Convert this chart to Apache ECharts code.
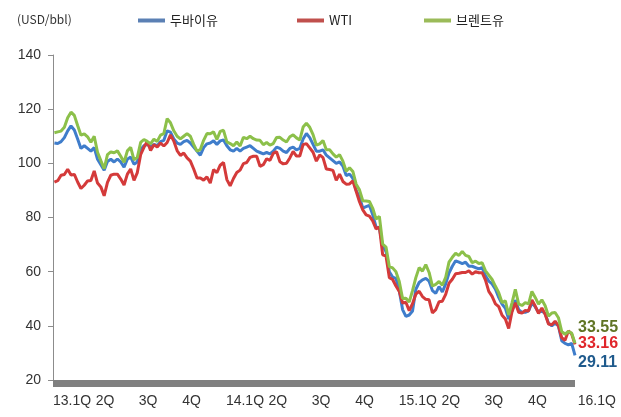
<!DOCTYPE html>
<html><head><meta charset="utf-8">
<script src="https://cdn.jsdelivr.net/npm/echarts@6/dist/echarts.min.js"></script>
<style>html,body{margin:0;padding:0;background:#fff}#c{width:621px;height:417px}</style>
</head><body><div id="c"></div>
<script>
// Weekly observations (Fridays) starting 2013-01-04 through 2016-01-08
const firstWeek = [2013, 0, 4];
const seriesNames = ['두바이유', 'WTI', '브렌트유'];

const dubai = [
  107.5,107.3,108.0,109.5,112.0,113.8,112.3,109.0,105.5,106.5,
  105.5,104.5,105.8,101.5,99.5,97.5,100.7,101.5,100.5,101.6,
  100.5,98.6,101.5,102.3,99.7,100.5,105.0,106.5,107.0,106.0,
  107.0,106.5,108.0,108.5,112.0,111.5,109.0,107.5,107.0,108.0,
  108.5,107.5,106.0,104.5,103.0,105.8,107.2,107.5,108.3,107.0,
  108.3,108.6,
  106.5,105.0,104.5,105.5,104.5,105.5,106.0,106.5,105.5,104.5,
  104.0,103.5,104.0,103.5,104.5,106.0,105.5,104.5,104.0,105.5,
  106.0,105.0,105.5,109.0,111.0,109.5,107.0,104.5,104.5,105.0,
  103.0,102.0,101.0,100.0,100.5,99.0,95.5,96.0,94.5,90.0,
  87.5,83.5,84.0,84.5,81.0,76.5,76.0,69.5,67.5,60.0,
  58.0,57.5,
  53.0,46.0,43.5,44.0,45.5,53.5,56.0,57.0,57.5,56.5,
  53.0,52.0,54.5,52.5,55.5,59.5,62.0,64.0,63.5,63.0,
  63.5,62.0,62.0,61.5,61.0,61.5,58.5,56.5,55.5,53.5,
  50.5,48.0,46.5,42.5,45.5,49.5,46.0,45.0,45.0,45.5,
  48.5,47.0,45.0,45.5,44.5,41.0,40.0,41.0,40.0,34.5,
  33.5,33.0,
  33.5,29.11
];

const wti = [
  93.1,93.6,95.6,95.9,97.8,95.7,95.9,93.1,90.7,91.9,
  93.5,93.7,97.2,92.7,91.3,88.0,93.0,95.6,96.0,96.0,
  94.2,92.0,96.0,97.9,93.7,96.6,103.2,105.9,108.1,104.7,
  106.9,106.0,107.5,106.4,107.7,110.5,108.2,104.7,102.9,103.8,
  102.0,100.8,97.9,94.6,94.6,93.8,95.0,92.7,97.7,96.6,
  99.3,100.3,
  94.0,91.7,94.4,96.6,97.5,99.9,100.3,102.2,102.6,102.6,
  98.9,99.5,101.7,101.1,103.7,104.3,100.6,99.8,100.0,102.0,
  104.4,102.7,102.7,106.9,107.3,105.7,104.1,100.8,103.1,102.1,
  97.9,97.7,97.4,93.7,96.0,93.3,92.3,92.4,93.5,89.7,
  85.8,82.8,81.0,80.5,78.7,75.8,76.5,66.2,65.8,57.8,
  57.1,54.7,
  52.7,48.4,48.7,45.6,48.2,51.7,52.8,50.8,49.8,49.6,
  44.8,46.0,48.9,49.1,51.6,55.7,57.2,59.2,59.4,59.7,
  59.7,60.3,59.1,60.0,59.6,59.6,56.9,52.7,50.9,48.1,
  47.1,43.9,42.5,39.0,45.2,48.5,45.0,44.7,45.7,45.5,
  49.6,47.3,44.6,46.6,44.3,40.7,40.4,41.7,40.0,35.6,
  34.7,38.1,
  37.0,33.16
];

const brent = [
  111.3,111.6,111.9,113.3,116.8,118.9,117.7,114.0,110.4,110.9,
  109.8,107.8,110.0,104.1,101.0,98.0,103.2,104.2,103.9,104.6,
  102.6,100.4,104.6,105.9,101.3,102.2,107.7,108.8,108.1,107.2,
  108.9,108.1,110.4,111.0,116.5,115.0,112.0,110.0,109.0,110.0,
  111.0,110.0,107.0,104.5,105.1,108.5,111.0,110.9,111.6,108.8,
  111.8,112.2,
  107.9,107.3,106.5,107.9,106.4,109.6,109.1,110.0,109.1,108.6,
  108.5,106.9,107.7,106.7,107.3,109.5,109.6,108.6,107.9,109.8,
  110.5,109.4,108.6,113.4,114.8,113.3,110.6,106.7,107.2,108.4,
  105.0,105.0,103.5,102.3,103.2,100.8,97.1,98.4,97.0,92.3,
  90.2,86.2,86.1,85.9,83.4,79.4,80.4,70.2,69.1,61.9,
  61.4,60.0,
  56.4,50.1,50.2,48.8,53.0,57.8,61.5,60.2,62.6,59.7,
  54.7,55.3,56.4,55.0,57.9,63.5,65.3,66.8,66.0,67.5,
  66.0,65.6,63.3,63.9,63.0,63.3,60.3,58.7,57.1,54.6,
  52.2,48.6,49.2,44.0,48.5,53.5,48.1,47.5,48.6,48.1,
  52.7,50.5,48.0,49.6,47.4,43.6,44.7,44.9,43.0,37.9,
  36.9,37.9,
  37.3,33.55
];

const quarterStarts = [[2013,0],[2013,3],[2013,6],[2013,9],[2014,0],[2014,3],[2014,6],[2014,9],[2015,0],[2015,3],[2015,6],[2015,9],[2016,0]];
const quarterLabels = ['13.1Q','2Q','3Q','4Q','14.1Q','2Q','3Q','4Q','15.1Q','2Q','3Q','4Q','16.1Q'];
const yMin = 20, yMax = 140, yStep = 20;

const DAY = 86400000;
// x values: days since 2013-01-01
const base = Date.UTC(2013, 0, 1);
const dayOf = (y, m, d) => Math.round((Date.UTC(y, m, d) - base) / DAY);
const weekDays = dubai.map((_, i) => dayOf(firstWeek[0], firstWeek[1], firstWeek[2] + 7 * i));
const qDays = quarterStarts.map(q => dayOf(q[0], q[1], 1));
const toPairs = arr => arr.map((v, i) => [weekDays[i], v]);

const NARROW = '"Liberation Sans Narrow","Arial Narrow",sans-serif';
const KR = '"Noto Sans CJK KR","Noto Sans",sans-serif';

const lineColors = ['#3F7DCB', '#D43A3A', '#8CC04A'];
const legendColors = ['#5B80B4', '#C0504D', '#9BBB59'];
const endColors = ['#1F5A8C', '#E0262B', '#607424'];
const endOffsets = [[0, 7], [0, -1], [0, -16]];
const legendLefts = [133, 292, 419];

const chart = echarts.init(document.getElementById('c'));
const datasets = [dubai, wti, brent];

chart.setOption({
  animation: false,
  backgroundColor: '#fff',
  title: {
    text: '(USD/bbl)', left: 12, top: 8,
    textStyle: { fontSize: 12, fontWeight: 'normal', color: '#333', fontFamily: KR }
  },
  legend: seriesNames.map((n, i) => ({
    data: [{ name: n, itemStyle: { color: legendColors[i] } }],
    left: legendLefts[i], top: 9,
    icon: 'rect', itemWidth: 27, itemHeight: 4, itemGap: 4,
    textStyle: { fontSize: 13, color: '#222', fontFamily: KR }
  })),
  grid: { left: 53, right: 46, top: 55, bottom: 37 },
  xAxis: {
    type: 'value',
    min: 0,
    max: weekDays[weekDays.length - 1],
    offset: 3,
    axisLine: { show: true, lineStyle: { color: '#808080', width: 7, cap: 'butt' } },
    axisTick: { show: false },
    splitLine: { show: false },
    axisLabel: {
      customValues: qDays,
      align: 'left',
      margin: 11,
      fontSize: 14, color: '#333', fontFamily: NARROW,
      formatter: function (val) {
        let best = 0, bd = Infinity;
        qDays.forEach((t, i) => { const d = Math.abs(t - val); if (d < bd) { bd = d; best = i; } });
        const s = quarterLabels[best];
        return best === qDays.length - 1 ? '{last|' + s + '}' : s;
      },
      rich: { last: { padding: [0, 0, 0, 6], fontSize: 14, color: '#333', fontFamily: NARROW } }
    }
  },
  yAxis: {
    type: 'value', min: yMin, max: yMax, interval: yStep,
    axisLine: { show: true, lineStyle: { color: '#8c8c8c', width: 1 } },
    axisTick: { show: true, length: 5, lineStyle: { color: '#8c8c8c' } },
    splitLine: { show: false },
    axisLabel: { fontSize: 14, color: '#333', fontFamily: NARROW, margin: 12 }
  },
  series: datasets.map((d, i) => ({
    name: seriesNames[i],
    type: 'line',
    data: toPairs(d),
    showSymbol: false, symbol: 'none',
    lineStyle: { width: 3, color: lineColors[i] },
    itemStyle: { color: lineColors[i] },
    z: 2 + i,
    endLabel: {
      show: true, distance: 3, offset: endOffsets[i],
      formatter: p => p.value[1].toFixed(2),
      color: endColors[i], fontWeight: 'bold', fontSize: 16, fontFamily: NARROW
    }
  }))
});
</script>
</body></html>
